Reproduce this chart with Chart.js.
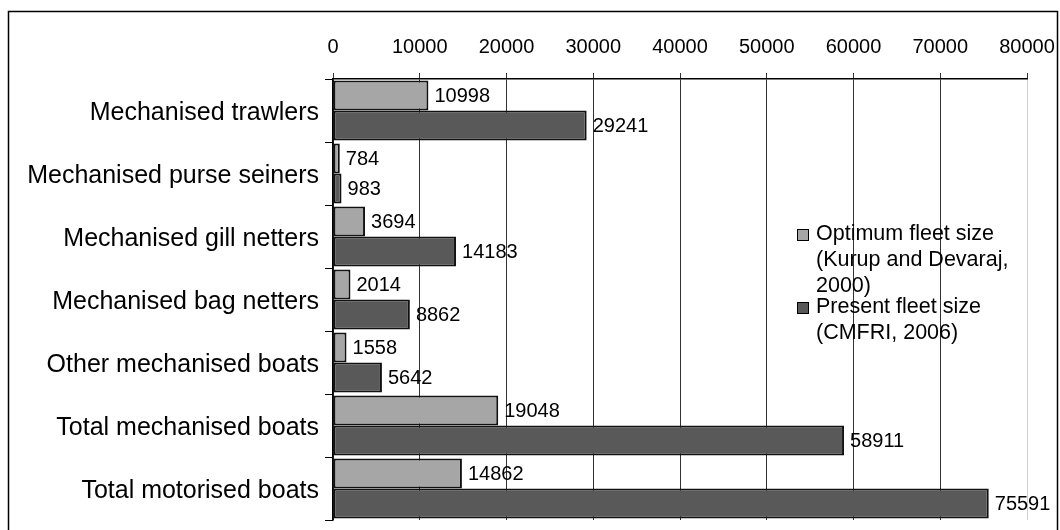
<!doctype html>
<html>

<head>
  <meta charset="utf-8">
  <title>Fleet size</title>
  <style>
    html, body { margin: 0; padding: 0; background: #fff; }
    .chartBox { width: 1060px; height: 530px; }
  </style>
</head>

<body>
  <div class="chartBox">
    <canvas id="myChart" width="1060" height="530"></canvas>
  </div>

  <script src="https://cdn.jsdelivr.net/npm/chart.js"></script>
  <script>
    const categories = [
      'Mechanised trawlers',
      'Mechanised purse seiners',
      'Mechanised gill netters',
      'Mechanised bag netters',
      'Other mechanised boats',
      'Total mechanised boats',
      'Total motorised boats'
    ];
    const optimum = [10998, 784, 3694, 2014, 1558, 19048, 14862];
    const present = [29241, 983, 14183, 8862, 5642, 58911, 75591];
    const legendLines = [
      ['Optimum fleet size', '(Kurup and Devaraj,', '2000)'],
      ['Present fleet size', '(CMFRI, 2006)']
    ];

    const FONT = '"Liberation Sans", Arial, sans-serif';

    // frame, value labels and the legend are drawn by hand
    const extras = {
      id: 'extras',
      beforeDraw(chart) {
        const ctx = chart.ctx;
        ctx.save();
        ctx.fillStyle = '#fff';
        ctx.fillRect(0, 0, chart.width, chart.height);
        ctx.restore();
      },
      afterDraw(chart) {
        const ctx = chart.ctx;
        ctx.save();
        // outer frame
        ctx.strokeStyle = '#000';
        ctx.lineWidth = 1.5;
        ctx.strokeRect(8.5, 11.5, 1049, 600);

        // value labels
        ctx.fillStyle = '#000';
        ctx.font = '20px ' + FONT;
        ctx.textBaseline = 'middle';
        ctx.textAlign = 'left';
        chart.data.datasets.forEach((ds, i) => {
          chart.getDatasetMeta(i).data.forEach((bar, j) => {
            ctx.fillText(String(ds.data[j]), bar.x + 6, bar.y + 1);
          });
        });

        // legend
        let y = 234;
        chart.data.datasets.forEach((ds, i) => {
          ctx.fillStyle = ds.backgroundColor;
          ctx.fillRect(797.5, y - 4.5, 11, 11);
          ctx.strokeStyle = '#000';
          ctx.lineWidth = 1;
          ctx.strokeRect(797.5, y - 4.5, 11, 11);
          ctx.fillStyle = '#000';
          ctx.font = '21.5px ' + FONT;
          legendLines[i].forEach((t) => {
            ctx.fillText(t, 816, y);
            y += 26;
          });
          y -= 5;
        });
        ctx.restore();
      }
    };

    const data = {
      labels: categories,
      datasets: [{
        label: 'Optimum fleet size (Kurup and Devaraj, 2000)',
        data: optimum,
        backgroundColor: '#a6a6a6',
        borderColor: '#111',
        borderWidth: 2,
        borderSkipped: false
      }, {
        label: 'Present fleet size (CMFRI, 2006)',
        data: present,
        backgroundColor: '#595959',
        borderColor: '#111',
        borderWidth: 2,
        borderSkipped: false
      }]
    };

    const config = {
      type: 'bar',
      data,
      options: {
        indexAxis: 'y',
        responsive: false,
        animation: false,
        layout: { padding: { left: 0, top: 0, right: 33, bottom: 10 } },
        datasets: {
          bar: { categoryPercentage: 0.95, barPercentage: 1 }
        },
        scales: {
          x: {
            position: 'top',
            min: 0,
            max: 80000,
            afterFit: (s) => {
              s.height = 79;
              s.paddingLeft = 0;
              s.paddingRight = 0;
            },
            ticks: {
              stepSize: 10000,
              padding: 14,
              color: '#000',
              font: { family: FONT, size: 20 },
              callback: (v) => String(v)
            },
            grid: {
              color: (c) => (c.tick && c.tick.value === 80000 ? '#d0d0d0' : '#333'),
              lineWidth: 1,
              tickLength: 6,
              tickColor: '#333'
            },
            border: { color: '#000', width: 1.5 }
          },
          y: {
            afterFit: (s) => {
              s.width = 333;
              s.paddingTop = 0;
              s.paddingBottom = 0;
            },
            ticks: {
              padding: 6,
              labelOffset: 3,
              color: '#000',
              font: { family: FONT, size: 25 }
            },
            grid: {
              offset: true,
              drawOnChartArea: false,
              tickLength: 8,
              tickColor: '#000'
            },
            border: { color: '#000', width: 1.5 }
          }
        },
        plugins: {
          legend: { display: false },
          tooltip: { enabled: false }
        }
      },
      plugins: [extras]
    };

    new Chart(document.getElementById('myChart'), config);
  </script>
</body>

</html>
